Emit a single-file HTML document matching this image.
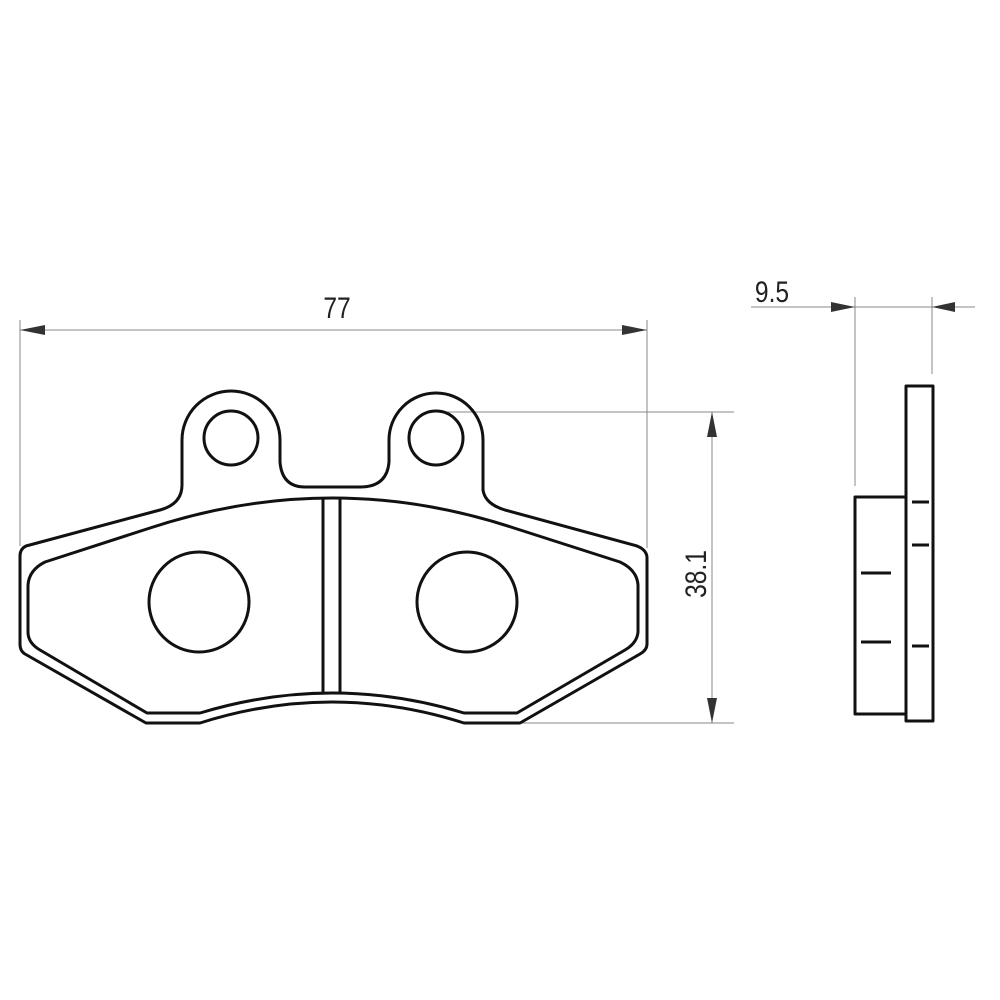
<!DOCTYPE html>
<html><head><style>html,body{margin:0;padding:0;background:#fff}svg{display:block}</style></head>
<body>
<svg width="1000" height="1000" viewBox="0 0 1000 1000" xmlns="http://www.w3.org/2000/svg">
<g stroke="#888" stroke-width="1" fill="none">
<line x1="20" y1="320" x2="20" y2="546"/>
<line x1="647" y1="320" x2="647" y2="548"/>
<line x1="20" y1="330" x2="647" y2="330"/>
<line x1="436" y1="412" x2="734" y2="412"/>
<line x1="520" y1="723" x2="734" y2="723"/>
<line x1="712" y1="412" x2="712" y2="723"/>
<line x1="751" y1="307" x2="975" y2="307"/>
<line x1="855" y1="297" x2="855" y2="486"/>
<line x1="932" y1="297" x2="932" y2="374"/>
</g>
<g fill="#333">
<polygon points="20,330 45,325 45,335"/>
<polygon points="647,330 622,325 622,335"/>
<polygon points="712,412 707,437 717,437"/>
<polygon points="712,723 707,698 717,698"/>
<polygon points="855,307 831,302 831,312"/>
<polygon points="932,307 955,302 955,312"/>
</g>
<g stroke="#111" stroke-width="3" fill="none" stroke-linejoin="round">
<path d="M26,546 L160,510 Q182,504 182,485 L182,440 A49,49 0 0 1 280,440 L280,462 Q282,487 305,487 L360,487 Q387,487 389,462 L389,440 A47,47 0 0 1 483,440 L483,490 Q485,504 505,510 L637,546 Q647,550 647,558 L647,644 Q647,650 640,654 L520,723 L464,723 Q332,681 200,723 L146,723 L25,654 Q20,651 20,644 L20,556 Q20,549 26,546 Z"/>
<path d="M45,562 L150,528 Q332,468 514,528 L620,562 Q637,570 638,585 L638,632 Q637,643 625,650 L517,713 L464,713 Q332,673 200,713 L147,713 L40,650 Q28,643 28,632 L28,585 Q29,570 45,562 Z"/>
<line x1="323" y1="499" x2="323" y2="694"/>
<line x1="340" y1="499" x2="340" y2="694"/>
<circle cx="231" cy="438" r="27"/>
<circle cx="436" cy="438" r="27"/>
<circle cx="199" cy="602" r="50"/>
<circle cx="467" cy="602" r="50"/>
<rect x="906" y="386" width="27" height="335"/>
<path d="M906,497 L855,497 L855,714 L906,714"/>
<line x1="861" y1="573" x2="891" y2="573"/>
<line x1="861" y1="642" x2="891" y2="642"/>
<line x1="912" y1="502" x2="929" y2="502"/>
<line x1="912" y1="545" x2="929" y2="545"/>
<line x1="912" y1="646" x2="929" y2="646"/>
</g>
<g font-family="Liberation Sans, sans-serif" font-size="30" fill="#222" text-anchor="middle">
<text transform="translate(337,318) scale(0.82,1)">77</text>
<text transform="translate(772,302) scale(0.82,1)">9.5</text>
<text transform="translate(706,574) rotate(-90) scale(0.82,1)">38.1</text>
</g>
</svg>
</body></html>
